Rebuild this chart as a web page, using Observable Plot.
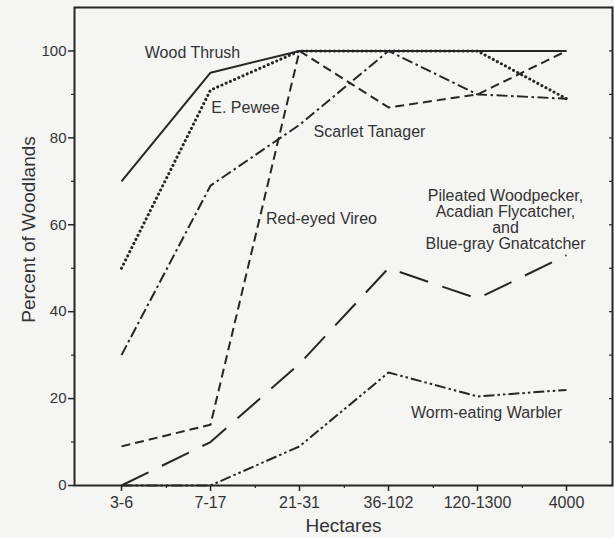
<!DOCTYPE html>
<html><head><meta charset="utf-8">
<script src="https://cdn.jsdelivr.net/npm/d3@7"></script>
<script src="https://cdn.jsdelivr.net/npm/@observablehq/plot@0.6"></script>
<style>
html,body{margin:0;padding:0;background:#f5f5f3;}
#chart svg{display:block;}
</style></head><body><div id="chart"></div>
<script>
// ---- data ----
const categories = ["3-6", "7-17", "21-31", "36-102", "120-1300", "4000"];
const woodThrush = [70, 95, 100, 100, 100, 100];
const ePewee = [50, 91, 100, 100, 100, 89];
const scarletTanager = [30, 69, 83, 100, 90, 89];
const redEyedVireo = [9, 14, 100, 87, 90, 100];
const pileatedGroup = [0, 10, 28, 50, 43, 53];
const wormEatingWarbler = [0, 0, 9, 26, 20.5, 22];
const yTicks = [0, 20, 40, 60, 80, 100];
const yMinorTicks = [10, 30, 50, 70, 90];
const labelTexts = ["Wood Thrush", "E. Pewee", "Scarlet Tanager", "Red-eyed Vireo",
  "Pileated Woodpecker,\nAcadian Flycatcher,\nand\nBlue-gray Gnatcatcher", "Worm-eating Warbler"];
const labelCats = ["7-17", "7-17", "21-31", "21-31", "120-1300", "120-1300"];
const labelVals = [99.5, 86.9, 81.4, 61.4, 61.1, 16.6];
const yTitle = "Percent of Woodlands";
const xTitle = "Hectares";

// ---- layout / style ----
const W = 614, H = 538, mL = 74, mR = 2, mT = 7, mB = 53;
const step = (W - mL - mR) / categories.length;
const ink = "#262626";
const fontFamily = "'Liberation Sans', Arial, Helvetica, sans-serif";

const seriesDefs = [
  {values: woodThrush, dash: null, cap: "butt", sw: 2},
  {values: ePewee, dash: "0.1,4.5", cap: "round", sw: 3},
  {values: scarletTanager, dash: "11,3.5,2.5,3.5", cap: "butt", sw: 2},
  {values: redEyedVireo, dash: "9,5", cap: "butt", sw: 2},
  {values: pileatedGroup, dash: "30,15", cap: "butt", sw: 2},
  {values: wormEatingWarbler, dash: "11,3,2.5,3,2.5,3", cap: "butt", sw: 2}
];
const labelDx = [-18, 35, 70, 22, 28, 9];

const lineMarks = seriesDefs.map(s => {
  const rows = s.values.map((v, i) => ({x: categories[i], y: v}));
  return Plot.line(rows, {x: "x", y: "y", stroke: ink, strokeWidth: s.sw,
    strokeDasharray: s.dash, strokeLinecap: s.cap, strokeLinejoin: "round"});
});

const labelRows = labelTexts.map((t, i) => ({t, x: labelCats[i], y: labelVals[i], dx: labelDx[i]}));
const labelMarks = labelRows.map(r => Plot.text([r], {x: "x", y: "y", text: "t", dx: r.dx,
  fontSize: 16, lineHeight: 1, fill: "#333", textAnchor: "middle"}));

const chart = Plot.plot({
  width: W, height: H,
  marginLeft: mL, marginRight: mR, marginTop: mT, marginBottom: mB,
  style: {background: "#f5f5f3", fontFamily, color: ink},
  x: {type: "point", domain: categories, padding: 0.5, label: null},
  y: {domain: [0, 110], label: null},
  marks: [
    Plot.frame({stroke: ink, strokeWidth: 2}),
    Plot.axisY({ticks: yTicks, tickSize: 6, tickPadding: 2, fontSize: 15, label: null, strokeWidth: 1.5, fill: "#333"}),
    Plot.axisY({ticks: yMinorTicks, tickSize: 3, fill: "none", label: null, strokeWidth: 1.2}),
    Plot.axisY({anchor: "right", ticks: [...yTicks, ...yMinorTicks], tickSize: 4, dx: -4, fill: "none", label: null, strokeWidth: 1.2}),
    Plot.axisX({tickSize: 6, tickPadding: 5, fontSize: 16, label: null, strokeWidth: 1.5, fill: "#333"}),
    Plot.axisX({ticks: categories.slice(0, -1), tickSize: 3, dx: step / 2, fill: "none", label: null, strokeWidth: 1.2}),
    ...lineMarks,
    ...labelMarks,
    Plot.text([yTitle], {frameAnchor: "left", dx: -46, dy: -17, rotate: -90, fontSize: 19,
      textAnchor: "middle", lineAnchor: "middle", fill: "#333", text: d => d}),
    Plot.text([xTitle], {frameAnchor: "bottom", dy: 40, fontSize: 19,
      textAnchor: "middle", lineAnchor: "middle", fill: "#333", text: d => d})
  ]
});
document.getElementById("chart").append(chart);
</script>
</body></html>
